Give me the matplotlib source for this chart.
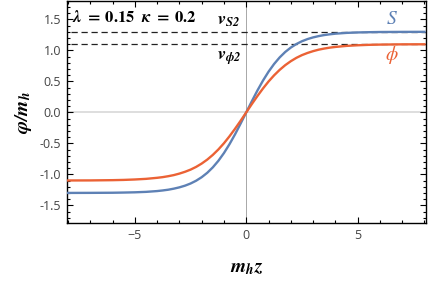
import numpy as np
import matplotlib
matplotlib.use("Agg")
import matplotlib.pyplot as plt
from matplotlib.ticker import MultipleLocator

plt.rcParams['mathtext.fontset'] = 'stix'
plt.rcParams['font.family'] = ['Open Sans', 'DejaVu Sans']

# kink profiles (odd in z)
z_pos = [0.0, 0.25, 0.5, 0.75, 1.0, 1.25, 1.5, 1.75, 2.0, 2.25, 2.5, 2.75,
         3.0, 3.25, 3.5, 3.75, 4.0, 4.5, 5.0, 5.5, 6.0, 7.0, 8.0]
S_pos = [0.0, 0.179, 0.352, 0.512, 0.656, 0.781, 0.887, 0.975, 1.046, 1.103, 1.148, 1.183,
         1.210, 1.231, 1.248, 1.260, 1.270, 1.283, 1.290, 1.294, 1.297, 1.299, 1.300]
phi_pos = [0.0, 0.134, 0.263, 0.385, 0.498, 0.598, 0.686, 0.762, 0.826, 0.880, 0.924, 0.959,
           0.988, 1.012, 1.030, 1.045, 1.056, 1.073, 1.083, 1.090, 1.094, 1.098, 1.099]

vS2 = 1.30
vphi2 = 1.10

z = np.concatenate([-np.array(z_pos[:0:-1]), z_pos])
S = np.concatenate([-np.array(S_pos[:0:-1]), S_pos])
phi = np.concatenate([-np.array(phi_pos[:0:-1]), phi_pos])

blue = "#5E81B5"
orange = "#EB6235"
tick_col = "#444444"

fig = plt.figure(figsize=(4.29, 2.83), dpi=100)
ax = fig.add_axes([0.156, 0.211, 0.836, 0.786])

ax.axhline(0, color="#d4d4d4", lw=1.1, zorder=1)
ax.axvline(0, color="#a8a8a8", lw=0.7, zorder=1)

ax.plot([-7.85, 8.1], [vS2, vS2], color="#222222", lw=0.9, ls=(0, (5, 3)), zorder=2)
ax.plot([-7.85, 8.1], [vphi2, vphi2], color="#222222", lw=0.9, ls=(0, (5, 3)), zorder=2)

ax.plot(z, S, color=blue, lw=1.7, zorder=3)
ax.plot(z, phi, color=orange, lw=1.7, zorder=3)

ax.set_xlim(-8.05, 8.05)
ax.set_ylim(-1.79, 1.8)

ax.xaxis.set_major_locator(MultipleLocator(5))
ax.xaxis.set_minor_locator(MultipleLocator(1))
ax.yaxis.set_major_locator(MultipleLocator(0.5))
ax.yaxis.set_minor_locator(MultipleLocator(0.1))
ax.yaxis.set_major_formatter(matplotlib.ticker.FormatStrFormatter('%.1f'))
ax.tick_params(which="both", direction="in", top=True, right=True,
               labelsize=9, labelcolor=tick_col, width=0.8)
ax.tick_params(which="major", length=4, pad=4)
ax.tick_params(which="minor", length=2)
for sp in ax.spines.values():
    sp.set_linewidth(1.0)

ax.text(-7.8, 1.52,
        r"$\mathbfit{\lambda}\ \boldsymbol{=}\ \mathbf{0.15}\ \ \mathbfit{\kappa}\ \boldsymbol{=}\ \mathbf{0.2}$",
        fontsize=12, ha="left", va="center")
ax.text(-1.3, 1.49, r"$\mathbfit{v_{S2}}$", fontsize=13, ha="left", va="center")
ax.text(-1.3, 0.88, r"$\mathbfit{v_{\phi 2}}$", fontsize=13, ha="left", va="center")
ax.text(6.55, 1.50, r"$S$", fontsize=14, color=blue, ha="center", va="center")
ax.text(6.55, 0.92, r"$\phi$", fontsize=14, color=orange, ha="center", va="center")

ax.set_xlabel(r"$\mathbfit{m_h z}$", fontsize=14, labelpad=12)
ax.set_ylabel(r"$\mathbfit{\varphi/m_h}$", fontsize=14, labelpad=4)

fig.savefig("out.png", dpi=100)
